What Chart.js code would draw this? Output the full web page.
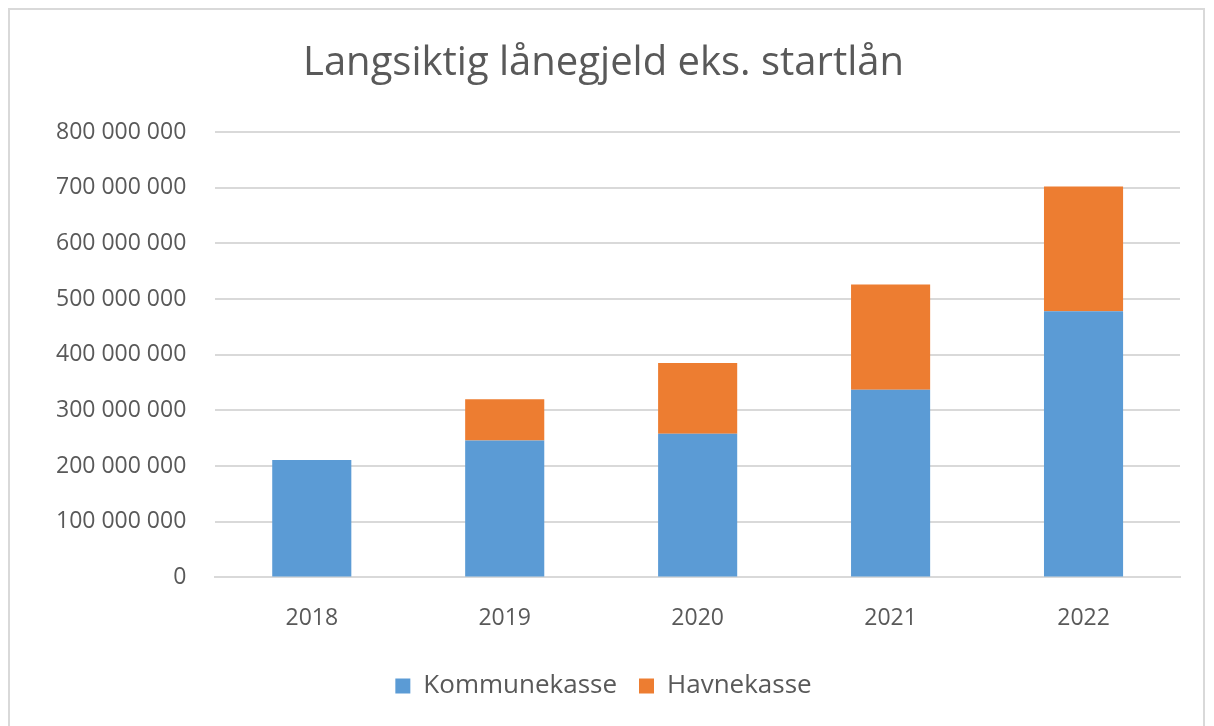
<!DOCTYPE html>
<html>
<head>
<meta charset="utf-8">
<script src="https://cdn.jsdelivr.net/npm/chart.js@4"></script>
<style>
  body { margin: 0; background: #fff; }
  #frame { position: absolute; left: 8px; top: 8px; width: 1197px; height: 740px; border: 2px solid #d9d9d9; box-sizing: border-box; }
  #wrap { position: absolute; left: 0; top: 0; width: 1214px; height: 726px; }
</style>
</head>
<body>
<div id="frame"></div>
<div id="wrap"><canvas id="gjeld"></canvas></div>
<script>
var years = ['2018', '2019', '2020', '2021', '2022'];
var kommunekasse = [211000000, 246000000, 258000000, 337000000, 478000000];
var havnekasse = [0, 74000000, 127000000, 189000000, 224000000];

function fmt(v){
    return String(v).replace(/\B(?=(\d{3})+(?!\d))/g, ' ');
}

var font = "'Open Sans', sans-serif";
new Chart('gjeld', {
    type: 'bar',
    data: {
        labels: years,
        datasets: [
            { label: 'Kommunekasse', data: kommunekasse, backgroundColor: '#5b9bd5', barPercentage: 0.41, categoryPercentage: 1 },
            { label: 'Havnekasse', data: havnekasse, backgroundColor: '#ed7d31', barPercentage: 0.41, categoryPercentage: 1 }
        ]
    },
    options: {
        responsive: true,
        maintainAspectRatio: false,
        animation: false,
        layout: { padding: { left: 27, right: 34, top: 40, bottom: 17 } },
        plugins: {
            title: {
                display: true,
                text: 'Langsiktig lånegjeld eks. startlån',
                color: '#595959',
                font: { family: font, size: 40, weight: 'normal' },
                padding: { top: 0, bottom: 44 }
            },
            legend: {
                position: 'bottom',
                labels: {
                    color: '#595959',
                    font: { family: font, size: 26 },
                    boxWidth: 15, boxHeight: 15,
                    padding: 22
                }
            },
            tooltip: { enabled: false }
        },
        scales: {
            x: {
                stacked: true,
                grid: { display: false },
                border: { color: '#d9d9d9', width: 2 },
                ticks: { color: '#595959', font: { family: font, size: 23 }, padding: 19 }
            },
            y: {
                stacked: true,
                min: 0, max: 800000000,
                grid: { color: '#d9d9d9', lineWidth: 2, drawTicks: false },
                border: { display: false },
                ticks: {
                    stepSize: 100000000,
                    color: '#595959',
                    font: { family: font, size: 23 },
                    padding: 29,
                    callback: function(v){ return fmt(v); }
                }
            }
        }
    }
});
</script>
</body>
</html>
